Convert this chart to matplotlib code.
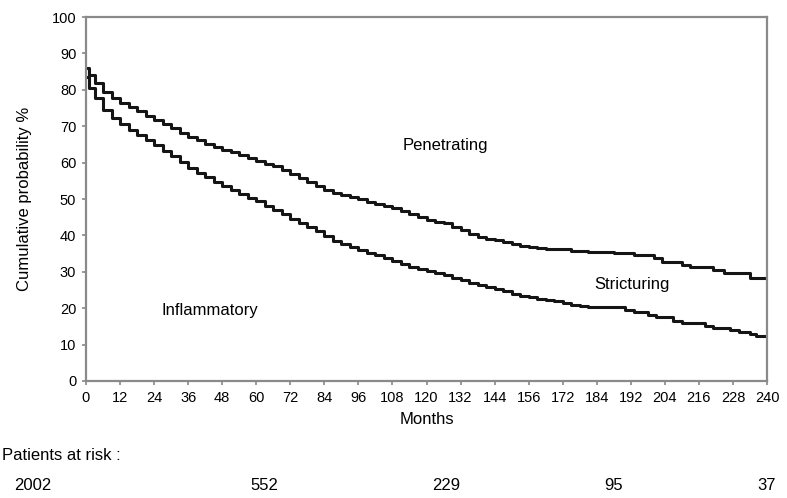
import matplotlib.pyplot as plt

# data (step times in months, cumulative probability %)
months_head = [0, 1, 3, 6, 9, 12, 15, 18, 21, 24, 27, 30, 33, 36, 39, 42, 45, 48, 51, 54,
               57, 60, 63, 66, 69, 72, 75, 78, 81, 84, 87, 90, 93, 96, 99, 102, 105, 108,
               111, 114, 117, 120, 123, 126, 129, 132, 135, 138, 141, 144, 147, 150, 153,
               156, 159, 162, 165, 168, 171, 174, 177, 180]
upper_head = [86, 84, 81.8, 79.5, 77.7, 76.4, 75.2, 74.1, 72.9, 71.8, 70.6, 69.4, 68.2,
              67.1, 66.1, 65.2, 64.3, 63.5, 62.8, 62, 61.2, 60.5, 59.7, 59, 58, 57, 55.9,
              54.7, 53.6, 52.6, 51.7, 51, 50.5, 49.9, 49.3, 48.7, 48.1, 47.5, 46.6, 45.8,
              45, 44.2, 43.7, 43.3, 42.4, 41.5, 40.5, 39.6, 39, 38.6, 38.1, 37.6, 37.2,
              36.8, 36.5, 36.3, 36.2, 36.2, 35.8, 35.6, 35.4, 35.4]
lower_head = [83.5, 80.5, 77.7, 74.5, 72.3, 70.5, 68.9, 67.5, 66.2, 64.8, 63.3, 61.8,
              60.2, 58.6, 57.2, 56, 54.8, 53.6, 52.4, 51.3, 50.3, 49.4, 48.2, 47.1, 45.8,
              44.6, 43.4, 42.3, 41.2, 39.8, 38.5, 37.6, 36.8, 36, 35.2, 34.5, 33.7, 32.9,
              32.1, 31.4, 30.7, 30.1, 29.6, 29.1, 28.4, 27.7, 27, 26.4, 25.8, 25.3, 24.6,
              24, 23.4, 23, 22.6, 22.2, 21.9, 21.5, 21, 20.6, 20.2, 20.2]

# tails after 180 months have fewer, larger steps
months_upper_tail = [186, 193, 200, 203, 210, 213, 221, 225, 234, 240]
upper_tail = [35.3, 34.6, 33.8, 32.8, 32.0, 31.4, 30.5, 29.6, 28.2, 28.2]
months_lower_tail = [186, 190, 193, 198, 201, 207, 210, 218, 221, 227, 230, 234, 236, 240]
lower_tail = [20.2, 19.6, 19.0, 18.2, 17.5, 16.6, 15.8, 15.1, 14.5, 13.9, 13.5, 12.9,
              12.4, 12.4]

xticks = list(range(0, 241, 12))
xtick_labels = ['0', '12', '24', '36', '48', '60', '72', '84', '96', '108', '120', '132',
                '144', '156', '172', '184', '192', '204', '216', '228', '240']
yticks = list(range(0, 101, 10))

at_risk = ['2002', '552', '229', '95', '37']
at_risk_x = [33, 264, 446, 614, 767]   # pixel centres in the figure

plt.rcParams['font.family'] = ['Liberation Sans', 'DejaVu Sans']
narrow = ['Liberation Sans Narrow', 'Liberation Sans', 'DejaVu Sans']

fig = plt.figure(figsize=(7.87, 4.98), dpi=100)
ax = fig.add_axes([86 / 787, 1 - 381 / 498, 681 / 787, 364 / 498])

ax.step(months_head + months_upper_tail, upper_head + upper_tail, where='post',
        color='#151515', lw=2.2)
ax.step(months_head + months_lower_tail, lower_head + lower_tail, where='post',
        color='#151515', lw=2.2)

ax.set_xlim(0, 240)
ax.set_ylim(0, 100)
ax.set_xticks(xticks)
ax.set_xticklabels(xtick_labels, family=narrow, fontsize=10.5)
ax.set_yticks(yticks)
ax.set_yticklabels([str(v) for v in yticks], family=narrow, fontsize=10.5)
ax.tick_params(length=3, width=1.2, color='#888888', pad=4)

for s in ax.spines.values():
    s.set_color('#8a8a8a')
    s.set_linewidth(1.6)

ax.set_xlabel('Months', fontsize=12, labelpad=5)
ax.set_ylabel('Cumulative probability %', fontsize=12, labelpad=14)

ax.text(126.5, 64.8, 'Penetrating', fontsize=12, ha='center', va='center')
ax.text(192.5, 26.6, 'Stricturing', fontsize=12, ha='center', va='center')
ax.text(43.7, 19.5, 'Inflammatory', fontsize=12, ha='center', va='center')

fig.text(2 / 787, 1 - 455 / 498, 'Patients at risk :', family=narrow, fontsize=12,
         ha='left', va='center')
for lab, px in zip(at_risk, at_risk_x):
    fig.text(px / 787, 1 - 485 / 498, lab, family=narrow, fontsize=12,
             ha='center', va='center')

plt.savefig('out.png', dpi=100)
